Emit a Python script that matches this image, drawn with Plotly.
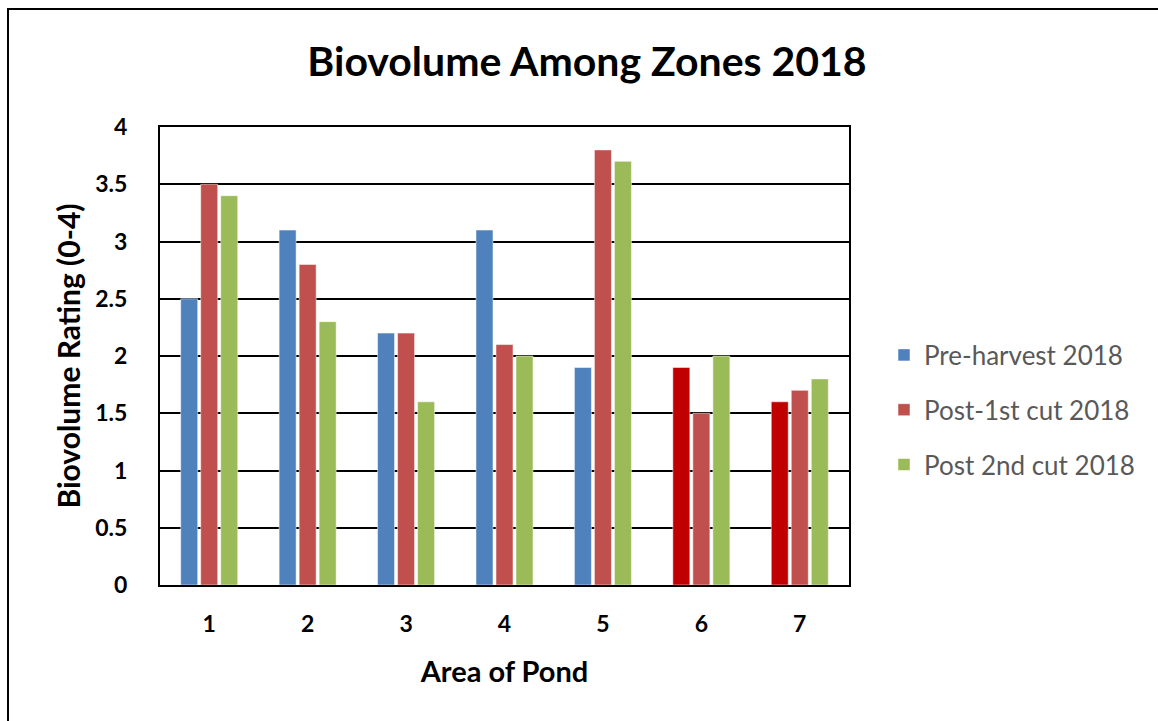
import plotly.graph_objects as go

# Zone labels and biovolume ratings (0-4) per survey
areas = ["1", "2", "3", "4", "5", "6", "7"]
pre_harvest = [2.5, 3.1, 2.2, 3.1, 1.9, 1.9, 1.6]
post_first_cut = [3.5, 2.8, 2.2, 2.1, 3.8, 1.5, 1.7]
post_second_cut = [3.4, 2.3, 1.6, 2.0, 3.7, 2.0, 1.8]

series_names = ["Pre-harvest 2018", "Post-1st cut 2018", "Post 2nd cut 2018"]
y_ticks = [0, 0.5, 1, 1.5, 2, 2.5, 3, 3.5, 4]
y_tick_text = ["0", "0.5", "1", "1.5", "2", "2.5", "3", "3.5", "4"]

BLUE = "#4F81BD"
RED = "#C0504D"
GREEN = "#9BBB59"
DARK_RED = "#C00000"

# zones 6 and 7 pre-harvest bars are highlighted in dark red
pre_colors = [BLUE] * 5 + [DARK_RED] * 2

FONT = "Lato, 'Liberation Sans', sans-serif"
W, H = 1158, 721
L, R, T, B = 160, 309, 127, 136

fig = go.Figure()
for name, vals, col, grp in [
    (series_names[0], pre_harvest, pre_colors, "a"),
    (series_names[1], post_first_cut, RED, "b"),
    (series_names[2], post_second_cut, GREEN, "c"),
]:
    fig.add_trace(go.Bar(
        x=areas, y=vals, name=name, legendgroup=grp,
        marker=dict(color=col, line=dict(color="rgba(255,255,255,0.5)", width=1)),
    ))

pw = W - L - R
ph = H - T - B

def px_x(px):
    return (px - L) / pw

def px_y(py):
    return (H - B - py) / ph

fig.update_layout(
    width=W, height=H,
    margin=dict(l=L, r=R, t=T, b=B, autoexpand=False),
    paper_bgcolor="white", plot_bgcolor="white",
    barmode="group", bargap=0.39, bargroupgap=0.15,
    font=dict(family=FONT, color="black"),
    title=dict(
        text="<b>Biovolume Among Zones 2018</b>",
        font=dict(size=41, family=FONT, color="black"),
        x=587 / W, xanchor="center", xref="container",
        y=1 - 62 / H, yanchor="middle", yref="container",
    ),
    legend=dict(
        x=px_x(884), y=px_y(410), xanchor="left", yanchor="middle",
        font=dict(size=26, color="#595959", family=FONT),
        tracegroupgap=18, itemwidth=30, bgcolor="rgba(0,0,0,0)",
    ),
    xaxis=dict(
        showline=True, linecolor="black", linewidth=2, mirror=True,
        showgrid=False, ticks="", ticklabelstandoff=17,
        tickfont=dict(size=23, family=FONT, color="black", weight="bold"),
        title=dict(text="<b>Area of Pond</b>", font=dict(size=29, family=FONT, color="black"), standoff=26),
        range=[-0.5, 6.5],
    ),
    yaxis=dict(
        range=[0, 4], tickvals=y_ticks, ticktext=y_tick_text,
        showline=True, linecolor="black", linewidth=2, mirror=True,
        showgrid=True, gridcolor="black", gridwidth=2,
        zeroline=False, ticks="", ticklabelstandoff=26,
        tickfont=dict(size=23, family=FONT, color="black", weight="bold"),
        title=dict(text="<b>Biovolume Rating (0-4)</b>", font=dict(size=30, family=FONT, color="black"), standoff=6),
    ),
    showlegend=True,
)

# outer chart frame
fig.add_shape(
    type="rect", xref="paper", yref="paper",
    x0=px_x(8), y0=px_y(740), x1=px_x(1175), y1=px_y(9),
    line=dict(color="black", width=2), fillcolor="rgba(0,0,0,0)", layer="below",
)

fig.write_html("out.html")
